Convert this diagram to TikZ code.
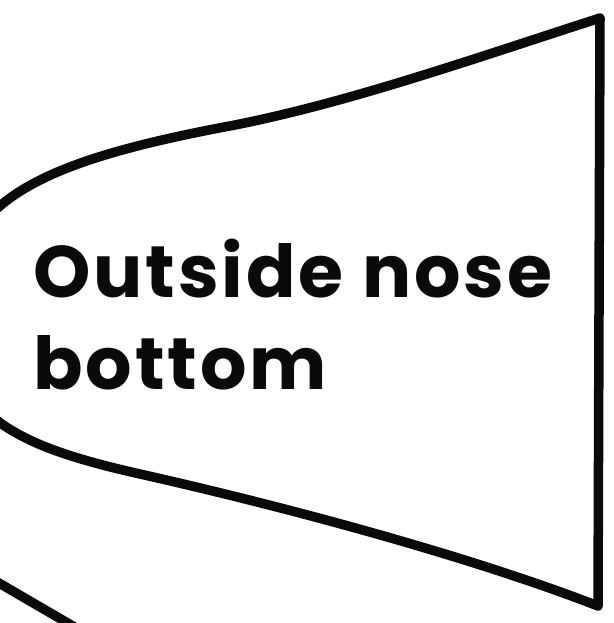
\documentclass[tikz,border=0pt]{standalone}
\usepackage{fontspec}
\setmainfont{Poppins}
\usetikzlibrary{positioning}
\definecolor{nsink}{HTML}{0A0A0A}
\tikzset{
  nsline/.style={draw=nsink, line width=9.5pt, line join=round, line cap=round},
  nslbl/.style={font=\bfseries\fontsize{73}{92}\selectfont\addfontfeature{LetterSpace=4},
    text=nsink, align=left, inner sep=0pt, anchor=base west},
}

\begin{document}
\begin{tikzpicture}[x=1pt, y=-1pt]
  \useasboundingbox (0,0) rectangle (613,623);
  \clip (0,0) rectangle (613,623);
  \fill[white] (0,0) rectangle (613,623);
  \coordinate (tr) at (600,18);
  \coordinate (br) at (598,606);
  \draw[nsline] (tr) -- (br)
    .. controls (480,560) and (300,510) .. (140,474)
    .. controls (60,456) and (20,440) .. (-10,415)
    .. controls (-45,390) and (-45,235) .. (-10,215)
    .. controls (30,175) and (100,150) .. (235,125)
    .. controls (350,102) and (470,60) .. (tr);
  \draw[nsline] (-20,572) -- (90,636);
  \node[nslbl] (lbl) at (33,389) {Outside nose\\bottom};
\end{tikzpicture}
\end{document}
